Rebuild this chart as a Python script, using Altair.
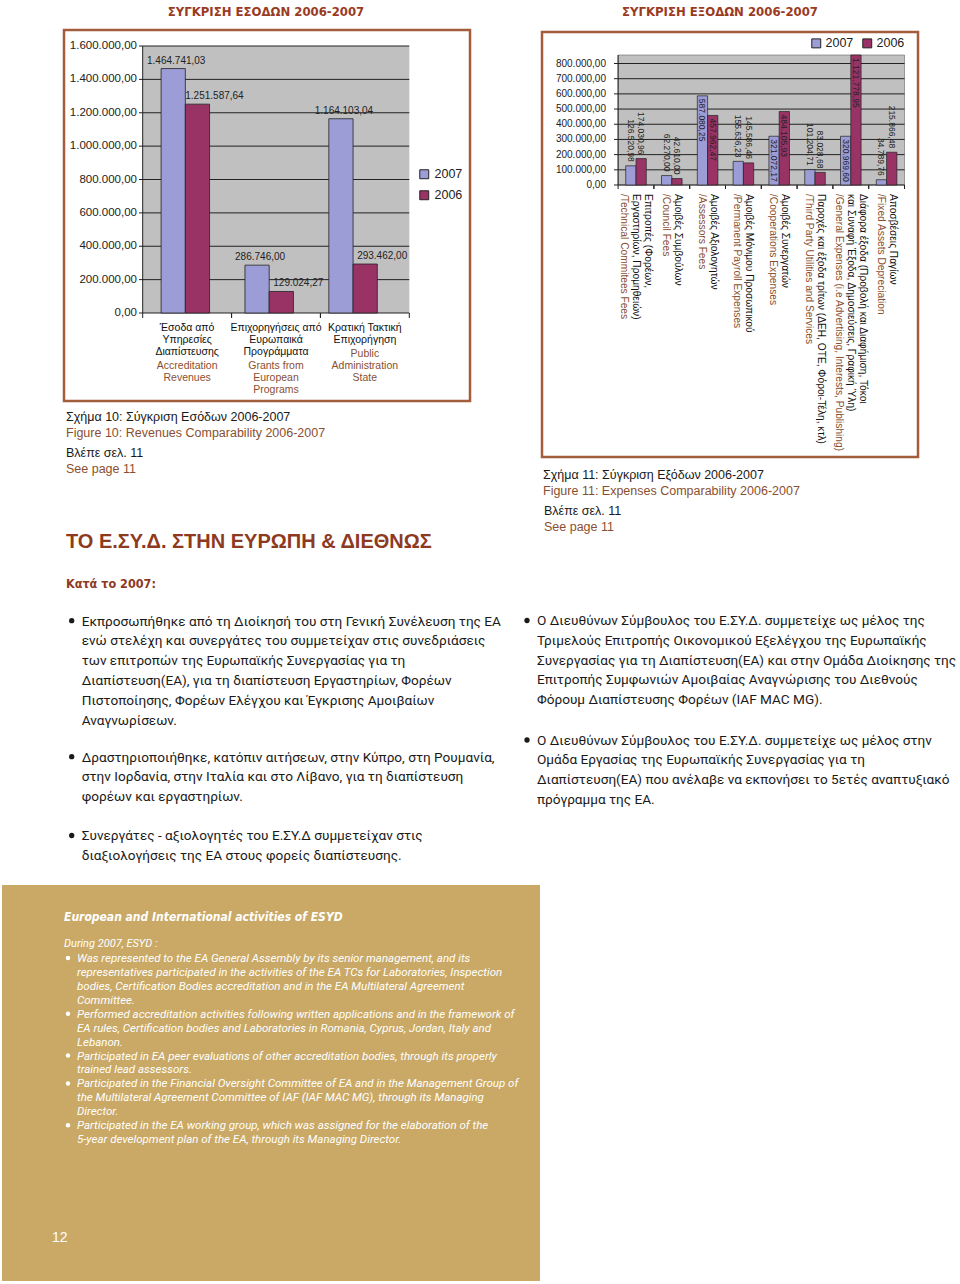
import altair as alt
import pandas as pd

SANS = "Liberation Sans"
COND = "DejaVu Sans Condensed"
BODY = "Roboto"
BROWN = "#8a4f30"
HEAD = "#9a3b1f"
FRAME = "#a35c3c"
GOLD = "#c9a965"
C2007 = "#9c9cd6"
C2006 = "#993366"
PLOT_BG = "#c0c0c0"
INK = "#1a1a1a"

years = ["2007", "2006"]

# ---------- Figure 10: revenues ----------
rev_gr = [["Έσοδα από", "Υπηρεσίες", "Διαπίστευσης"],
          ["Επιχορηγήσεις από", "Ευρωπαικά", "Προγράμματα"],
          ["Κρατική Τακτική", "Επιχορήγηση"]]
rev_en = [["Accreditation", "Revenues"],
          ["Grants from", "European", "Programs"],
          ["Public", "Administration", "State"]]
rev_2007 = [1464741.03, 286746.00, 1164103.04]
rev_2006 = [1251587.64, 129024.27, 293462.00]
rev_ticks = [0, 200000, 400000, 600000, 800000, 1000000, 1200000, 1400000, 1600000]

# ---------- Figure 11: expenses ----------
exp_gr = [["Επιτροπές (Φορέων,", "Εργαστηρίων, Προμηθειών)"],
          ["Αμοιβές Συμβούλων"],
          ["Αμοιβές Αξιολογητών"],
          ["Αμοιβές Μόνιμου Προσωπικού"],
          ["Αμοιβές Συνεργατών"],
          ["Παροχές και έξοδα τρίτων (ΔΕΗ, ΟΤΕ, Φόροι-Τέλη, κτλ)"],
          ["Διάφορα έξοδα (Προβολή και Διαφήμιση, Τόκοι", "και Συναφή Έξοδα, Δημοσιεύσεις, Γραφική Ύλη)"],
          ["Αποσβέσεις Παγίων"]]
exp_en = [["/Technical Commitees Fees"],
          ["/Council Fees"],
          ["/Assessors Fees"],
          ["/Permanent Payroll Expenses"],
          ["/Cooperations Expenses"],
          ["/Third Party Utilities and Services"],
          ["/General Expenses (i.e Advertising, Interests, Publishing)"],
          ["/Fixed Assets Depreciation"]]
exp_2007 = [126520.98, 62270.00, 587080.25, 155636.23, 321072.17, 101204.71, 320969.60, 34789.76]
exp_2006 = [174030.96, 42610.00, 457962.47, 145586.46, 484105.93, 83028.68, 1121778.95, 215866.48]
exp_ticks = [0, 100000, 200000, 300000, 400000, 500000, 600000, 700000, 800000]


def gr_num(v):
    s = f"{v:,.2f}"
    return s.replace(",", "#").replace(".", ",").replace("#", ".")


rev_cats = [" ".join(g) for g in rev_gr]
exp_cats = [" ".join(g) for g in exp_gr]


def bars_df(cats, v07, v06):
    rows = []
    for c, a, b in zip(cats, v07, v06):
        rows.append({"cat": c, "year": "2007", "value": a, "label": gr_num(a)})
        rows.append({"cat": c, "year": "2006", "value": b, "label": gr_num(b)})
    return pd.DataFrame(rows)


rev_df = bars_df(rev_cats, rev_2007, rev_2006)
exp_df = bars_df(exp_cats, exp_2007, exp_2006)
rev_tick_df = pd.DataFrame({"value": rev_ticks, "tick": [gr_num(t) for t in rev_ticks]})
exp_tick_df = pd.DataFrame({"value": exp_ticks, "tick": [gr_num(t) for t in exp_ticks]})
rev_cat_df = pd.DataFrame({"cat": rev_cats})
exp_cat_df = pd.DataFrame({"cat": exp_cats})

rows = []
for c, g, e in zip(rev_cats, rev_gr, rev_en):
    for i, t in enumerate(g):
        rows.append({"cat": c, "text": t, "row": i, "lang": "gr"})
    for j, t in enumerate(e):
        rows.append({"cat": c, "text": t, "row": len(g) + 0.23 + j, "lang": "en"})
rev_lab_df = pd.DataFrame(rows)

rows = []
for c, g, e in zip(exp_cats, exp_gr, exp_en):
    lines = [(t, "gr") for t in g] + [(t, "en") for t in e]
    n = len(lines)
    for i, (t, lang) in enumerate(lines):
        rows.append({"cat": c, "text": t, "slot": f"{n}-{i}", "lang": lang})
exp_lab_df = pd.DataFrame(rows)

one = pd.DataFrame({"k": [0]})
lang_color = alt.when(alt.datum.lang == "en").then(alt.value(BROWN)).otherwise(alt.value("#111111"))


def rect(x, x2, y, y2, **kw):
    return alt.Chart(one).mark_rect(**kw).encode(
        x=alt.value(x), x2=alt.value(x2), y=alt.value(y), y2=alt.value(y2))


def rule(x, x2, y, y2, color="#222", w=1):
    return alt.Chart(one).mark_rule(color=color, strokeWidth=w).encode(
        x=alt.value(x), x2=alt.value(x2), y=alt.value(y), y2=alt.value(y2))


def txt(lines, x, y, size, color=INK, font=SANS, weight="normal", style="normal",
        lh=None, align="left", baseline="middle"):
    kw = dict(align=align, baseline=baseline, font=font, fontSize=size, color=color,
              fontWeight=weight, fontStyle=style)
    if lh:
        kw["lineHeight"] = lh
    return alt.Chart(one).mark_text(**kw).encode(
        x=alt.value(x), y=alt.value(y), text=alt.value(lines))


def dot(x, y, color=INK, size=28):
    return alt.Chart(one).mark_circle(color=color, opacity=1, size=size).encode(
        x=alt.value(x), y=alt.value(y))


# ---------- chart 1 group ----------
x1 = alt.X("cat:N", sort=rev_cats, axis=None,
           scale=alt.Scale(range=[143.4, 395.0], paddingInner=0, paddingOuter=0))
y1 = alt.Y("value:Q", axis=None,
           scale=alt.Scale(domain=[0, 1600000], range=[313, 46], nice=False, zero=True))
xo1 = alt.XOffset("year:N", sort=years, scale=alt.Scale(paddingInner=0, paddingOuter=0.73))
col1 = alt.Color("year:N", sort=years, scale=alt.Scale(domain=years, range=[C2007, C2006]),
                 legend=alt.Legend(orient="none", legendX=418, legendY=168, title=None,
                                   direction="vertical", symbolType="square", symbolSize=80,
                                   symbolStrokeColor="#222", symbolStrokeWidth=1,
                                   labelFont=SANS, labelFontSize=12.5, labelColor="#222",
                                   rowPadding=7, labelOffset=4))

g1 = alt.layer(
    rect(142.7, 409.3, 46, 313, fill=PLOT_BG),
    alt.Chart(rev_tick_df).mark_rule(color="#222", strokeWidth=1).encode(
        y=y1, x=alt.value(139), x2=alt.value(409.3)),
    alt.Chart(rev_tick_df).mark_text(align="right", baseline="middle", font=SANS,
                                     fontSize=11.5, color="#222").encode(
        y=y1, x=alt.value(137), text="tick:N"),
    alt.Chart(rev_df).mark_bar(stroke="#222", strokeWidth=0.8).encode(
        x=x1, xOffset=xo1, y=y1, color=col1),
    rule(142.7, 142.7, 46, 313),
    alt.Chart(rev_df).transform_filter("datum.year == '2007'").mark_text(
        baseline="bottom", dy=-3, dx=3, font=SANS, fontSize=10, color="#222").encode(
        x=x1, xOffset=xo1, y=y1, text="label:N"),
    alt.Chart(rev_df).transform_filter("datum.year == '2006'").mark_text(
        baseline="bottom", dy=-3, dx=17, font=SANS, fontSize=10, color="#222").encode(
        x=x1, xOffset=xo1, y=y1, text="label:N"),
)

x1l_scale = alt.Scale(range=[142.7, 409.3], paddingInner=0, paddingOuter=0)
g1l = alt.layer(
    alt.Chart(rev_lab_df).mark_text(align="center", baseline="middle", font=SANS,
                                    fontSize=10.5).encode(
        x=alt.X("cat:N", sort=rev_cats, axis=None, scale=x1l_scale),
        y=alt.Y("row:Q", axis=None, scale=alt.Scale(domain=[0, 1], range=[327.7, 339.7],
                                                     nice=False, zero=False)),
        text="text:N", color=lang_color),
    alt.Chart(rev_cat_df).mark_rule(color="#222").encode(
        x=alt.X("cat:N", sort=rev_cats, axis=None, scale=x1l_scale, bandPosition=0),
        y=alt.value(313), y2=alt.value(318)),
    alt.Chart(rev_cat_df).mark_rule(color="#222").encode(
        x=alt.X("cat:N", sort=rev_cats, axis=None, scale=x1l_scale, bandPosition=1),
        y=alt.value(313), y2=alt.value(318)),
)

# ---------- chart 2 group ----------
x2_scale = alt.Scale(range=[618.1, 904.5], paddingInner=0, paddingOuter=0)
x2 = alt.X("cat:N", sort=exp_cats, axis=None, scale=x2_scale)
y2 = alt.Y("value:Q", axis=None,
           scale=alt.Scale(domain=[0, 856000], range=[185, 55], nice=False, zero=True, clamp=True))
xo2 = alt.XOffset("year:N", sort=years, scale=alt.Scale(paddingInner=0, paddingOuter=0.74))
col2 = alt.Color("year:N", sort=years, scale=alt.Scale(domain=years, range=[C2007, C2006]),
                 legend=alt.Legend(orient="none", legendX=810, legendY=37, title=None,
                                   direction="horizontal", columns=2, symbolType="square",
                                   symbolSize=80, symbolStrokeColor="#222", symbolStrokeWidth=1,
                                   labelFont=SANS, labelFontSize=12.5, labelColor="#222",
                                   columnPadding=6, labelOffset=3))

layers2 = [
    rect(618.1, 904.5, 55, 185, fill=PLOT_BG, stroke="#666", strokeWidth=0.6),
    alt.Chart(exp_tick_df).mark_rule(color="#222", strokeWidth=1).encode(
        y=y2, x=alt.value(614), x2=alt.value(904.5)),
    alt.Chart(exp_tick_df).mark_text(align="right", baseline="middle", font=SANS,
                                     fontSize=10, color="#222").encode(
        y=y2, x=alt.value(606), text="tick:N"),
    alt.Chart(exp_df).mark_bar(stroke="#222", strokeWidth=0.7).encode(
        x=x2, xOffset=xo2, y=y2, color=col2),
    rule(618.1, 618.1, 55, 185),
    alt.Chart(exp_cat_df).mark_rule(color="#222").encode(
        x=alt.X("cat:N", sort=exp_cats, axis=None, scale=x2_scale, bandPosition=0),
        y=alt.value(185), y2=alt.value(189)),
    alt.Chart(exp_cat_df).mark_rule(color="#222").encode(
        x=alt.X("cat:N", sort=exp_cats, axis=None, scale=x2_scale, bandPosition=1),
        y=alt.value(185), y2=alt.value(189)),
    alt.Chart(exp_df).transform_filter("datum.value <= 250000").mark_text(
        angle=90, align="right", baseline="middle", dx=-4, font=SANS, fontSize=8.5,
        color="#222").encode(x=x2, xOffset=xo2, y=y2, text="label:N"),
    alt.Chart(exp_df).transform_filter("datum.value > 250000").mark_text(
        angle=90, align="left", baseline="middle", dx=3, font=SANS, fontSize=8.5,
        color="#222").encode(x=x2, xOffset=xo2, y=y2, text="label:N"),
]
for slot in sorted(exp_lab_df["slot"].unique()):
    n, i = map(int, slot.split("-"))
    off = ((n - 1) / 2 - i) * 12
    layers2.append(
        alt.Chart(exp_lab_df).transform_filter(f"datum.slot == '{slot}'").mark_text(
            angle=90, align="left", baseline="middle", dy=-off, font=SANS, fontSize=10.2).encode(
            x=x2, y=alt.value(194), text="text:N", color=lang_color))
g2 = alt.layer(*layers2)

# ---------- page furniture & text ----------
BFS = 13.6
page = [
    rect(64, 470, 30, 401, fillOpacity=0, stroke=FRAME, strokeWidth=2.5),
    rect(542, 918, 32, 457, fillOpacity=0, stroke=FRAME, strokeWidth=2.5),
    rect(2, 540, 885, 1281, fill=GOLD),
    txt("ΣΥΓΚΡΙΣΗ ΕΣΟΔΩΝ 2006-2007", 266, 12, 13, HEAD, COND, "bold", align="center"),
    txt("ΣΥΓΚΡΙΣΗ ΕΞΟΔΩΝ 2006-2007", 720, 12, 13, HEAD, COND, "bold", align="center"),
    txt("Σχήμα 10: Σύγκριση Εσόδων 2006-2007", 66, 417, 12.5),
    txt("Figure 10: Revenues Comparability 2006-2007", 66, 432.5, 12.5, BROWN),
    txt("Βλέπε σελ. 11", 66, 452.5, 12.5),
    txt("See page 11", 66, 469, 12.5, BROWN),
    txt("Σχήμα 11: Σύγκριση Εξόδων 2006-2007", 543, 475, 12.5),
    txt("Figure 11: Expenses Comparability 2006-2007", 543, 491, 12.5, BROWN),
    txt("Βλέπε σελ. 11", 544, 511, 12.5),
    txt("See page 11", 544, 527, 12.5, BROWN),
    txt("ΤΟ Ε.ΣΥ.Δ. ΣΤΗΝ ΕΥΡΩΠΗ & ΔΙΕΘΝΩΣ", 66, 542, 20, "#8e3a1f", SANS, "bold"),
    txt("Κατά το 2007:", 66, 584, 12.5, "#8e3a1f", COND, "bold"),
    dot(71.7, 620.7), dot(71.7, 756.7), dot(71.7, 835.5),
    txt(["Εκπροσωπήθηκε από τη Διοίκησή του στη Γενική Συνέλευση της ΕΑ",
         "ενώ στελέχη και συνεργάτες του συμμετείχαν στις συνεδριάσεις",
         "των επιτροπών της Ευρωπαϊκής Συνεργασίας για τη",
         "Διαπίστευση(ΕΑ), για τη διαπίστευση Εργαστηρίων, Φορέων",
         "Πιστοποίησης, Φορέων Ελέγχου και Έγκρισης Αμοιβαίων",
         "Αναγνωρίσεων."], 81.7, 625.5, BFS, INK, BODY, lh=19.9, baseline="alphabetic"),
    txt(["Δραστηριοποιήθηκε, κατόπιν αιτήσεων, στην Κύπρο, στη Ρουμανία,",
         "στην Ιορδανία, στην Ιταλία και στο Λίβανο, για τη διαπίστευση",
         "φορέων και εργαστηρίων."], 81.7, 761.5, BFS, INK, BODY, lh=19.9, baseline="alphabetic"),
    txt(["Συνεργάτες - αξιολογητές του Ε.ΣΥ.Δ συμμετείχαν στις",
         "διαξιολογήσεις της ΕΑ στους φορείς διαπίστευσης."], 81.7, 840.3, BFS, INK, BODY,
        lh=19.9, baseline="alphabetic"),
    dot(527, 620.5), dot(527, 740),
    txt(["Ο Διευθύνων Σύμβουλος του Ε.ΣΥ.Δ. συμμετείχε ως μέλος της",
         "Τριμελούς Επιτροπής Οικονομικού Εξελέγχου της Ευρωπαϊκής",
         "Συνεργασίας για τη Διαπίστευση(ΕΑ) και στην Ομάδα Διοίκησης της",
         "Επιτροπής Συμφωνιών Αμοιβαίας Αναγνώρισης του Διεθνούς",
         "Φόρουμ Διαπίστευσης Φορέων (IAF MAC MG)."], 537, 625.3, BFS, INK, BODY,
        lh=19.7, baseline="alphabetic"),
    txt(["Ο Διευθύνων Σύμβουλος του Ε.ΣΥ.Δ. συμμετείχε ως μέλος στην",
         "Ομάδα Εργασίας της Ευρωπαϊκής Συνεργασίας για τη",
         "Διαπίστευση(ΕΑ) που ανέλαβε να εκπονήσει το 5ετές αναπτυξιακό",
         "πρόγραμμα της ΕΑ."], 537, 744.8, BFS, INK, BODY, lh=19.7, baseline="alphabetic"),
    txt("European and International activities of ESYD", 64, 917, 12, "white", COND,
        "bold", "italic"),
    txt("During 2007, ESYD :", 64, 944, 11, "white", BODY, style="italic"),
    dot(68, 958, "white", 20), dot(68, 1013.7, "white", 20), dot(68, 1055.6, "white", 20),
    dot(68, 1083.4, "white", 20), dot(68, 1125.2, "white", 20),
    txt(["Was represented to the EA General Assembly by its senior management, and its",
         "representatives participated in the activities of the EA TCs for Laboratories, Inspection",
         "bodies, Certification Bodies accreditation and in the EA Multilateral Agreement",
         "Committee.",
         "Performed accreditation activities following written applications and in the framework of",
         "EA rules, Certification bodies and Laboratories in Romania, Cyprus, Jordan, Italy and",
         "Lebanon.",
         "Participated in EA peer evaluations of other accreditation bodies, through its properly",
         "trained lead assessors.",
         "Participated in the Financial Oversight Committee of EA and in the Management Group of",
         "the Multilateral Agreement Committee of IAF (IAF MAC MG), through its Managing",
         "Director.",
         "Participated in the EA working group, which was assigned for the elaboration of the",
         "5-year development plan of the EA, through its Managing Director."],
        77, 962, 11.5, "white", BODY, style="italic", lh=13.93, baseline="alphabetic"),
    txt("12", 52, 1238, 14, "white", SANS),
]

chart = alt.layer(*page[:3], g1, g1l, g2, *page[3:]).resolve_scale(
    x="independent", y="independent", xOffset="independent", color="independent"
).properties(
    width=960, height=1284, padding=0, background="white",
    autosize=alt.AutoSizeParams(type="none")
).configure_view(strokeWidth=0)

chart.save("out.html", embed_options={"renderer": "svg", "actions": False})
